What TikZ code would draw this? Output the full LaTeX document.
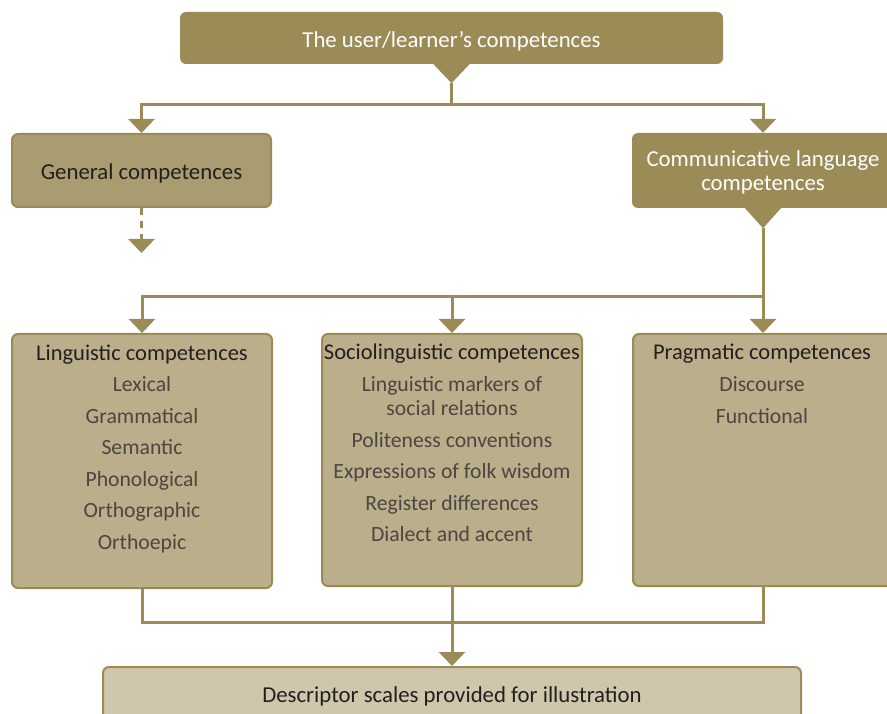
\documentclass[tikz,border=0pt]{standalone}
\usepackage{fontspec}
\setmainfont{Carlito}
\usetikzlibrary{positioning,arrows.meta}

\definecolor{oliveDark}{HTML}{9B8B57}
\definecolor{oliveMid}{HTML}{A99C70}
\definecolor{oliveLight}{HTML}{BAAF8A}
\definecolor{olivePale}{HTML}{D0C6AB}
\definecolor{inkDark}{HTML}{231F20}
\definecolor{inkGrey}{HTML}{4B4641}

\begin{document}
\begin{tikzpicture}[x=1pt,y=-1pt,>={Triangle[width=26pt,length=14pt]},
    link/.style={draw=oliveDark,line width=3pt},
    darkbox/.style={fill=oliveDark,rounded corners=6pt,text=white,align=center,font=\fontsize{22.8}{24}\selectfont,text depth=0pt},
    genbox/.style={fill=oliveMid,draw=oliveDark,line width=2pt,rounded corners=6pt,text=inkDark,font=\fontsize{22.8}{24}\selectfont,text height=19pt,text depth=0pt},
    compbox/.style={fill=oliveLight,draw=oliveDark,line width=2pt,rounded corners=6pt},
    scalebox/.style={fill=olivePale,draw=oliveDark,line width=2pt,rounded corners=6pt,text=inkDark,font=\fontsize{22.8}{24}\selectfont,text height=17pt,text depth=0pt},
    headtext/.style={text=inkDark,font=\fontsize{22.5}{26}\selectfont,inner sep=0pt,anchor=base},
    itemtext/.style={text=inkGrey,font=\fontsize{21.7}{31.5}\selectfont,align=center,inner sep=0pt,anchor=base}]
  \useasboundingbox (0,0) rectangle (887,714);
  \clip (0,0) rectangle (887,714);

  % boxes
  \node[darkbox,text height=19pt,minimum width=543pt,minimum height=52pt] (top) at (451.5,38) {The user/learner’s competences};
  \node[genbox,minimum width=259pt,minimum height=73pt] (general) at (141.5,170.5) {General competences};
  \node[darkbox,minimum width=262pt,minimum height=75pt] (comm) at (763,170.5) {Communicative language\\competences};
  \node[compbox,minimum width=260pt,minimum height=254pt] (ling) at (142,461) {};
  \node[compbox,minimum width=260pt,minimum height=252pt] (socio) at (452,460) {};
  \node[compbox,minimum width=260pt,minimum height=252pt] (prag) at (763,460) {};
  \node[scalebox,minimum width=698pt,minimum height=54pt] (scales) at (452,694) {Descriptor scales provided for illustration};

  % box texts (lists sit on the baseline of their last line)
  \node[headtext] (lingHead) at (142,360.5) {Linguistic competences};
  \node[itemtext] (lingList) at (142,549.3) {Lexical\\Grammatical\\Semantic\\Phonological\\Orthographic\\Orthoepic};
  \node[headtext] (socioHead) at (452,359.5) {Sociolinguistic competences};
  \node[itemtext] (socioList) at (452,541.7) {Linguistic markers of\\[-7.5pt]social relations\\Politeness conventions\\Expressions of folk wisdom\\Register differences\\Dialect and accent};
  \node[headtext] (pragHead) at (762,359.5) {Pragmatic competences};
  \node[itemtext] (pragList) at (762,423.2) {Discourse\\Functional};

  % pointers under the dark boxes
  \coordinate (topTip) at ([yshift=-19pt]top.south);
  \coordinate (topSplit) at ([yshift=-21pt]topTip);
  \fill[oliveDark] ([xshift=-18pt]top.south) -- ([xshift=18pt]top.south) -- (topTip) -- cycle;
  \coordinate (commTip) at ([yshift=-20pt]comm.south);
  \coordinate (commSplit) at ([yshift=-68pt]commTip);
  \fill[oliveDark] ([xshift=-18pt]comm.south) -- ([xshift=18pt]comm.south) -- (commTip) -- cycle;

  % connectors
  \draw[link] (topTip) -- (topSplit);
  \draw[link,->] (topSplit) -| (general.north);
  \draw[link,->] (topSplit) -| (comm.north);
  \coordinate (generalOut) at ([yshift=-45pt]general.south);
  \draw[link,dash pattern=on 7pt off 6pt,->] (general.south) -- (generalOut);
  \draw[link,->] (commTip) -- (prag.north);
  \draw[link,->] (commSplit) -| (ling.north);
  \draw[link,->] (commSplit -| socio.north) -- (socio.north);
  \coordinate (merge) at (452,622);
  \draw[link] (ling.south) |- (merge) -| (prag.south);
  \draw[link,->] (socio.south) -- (scales.north);
\end{tikzpicture}
\end{document}
